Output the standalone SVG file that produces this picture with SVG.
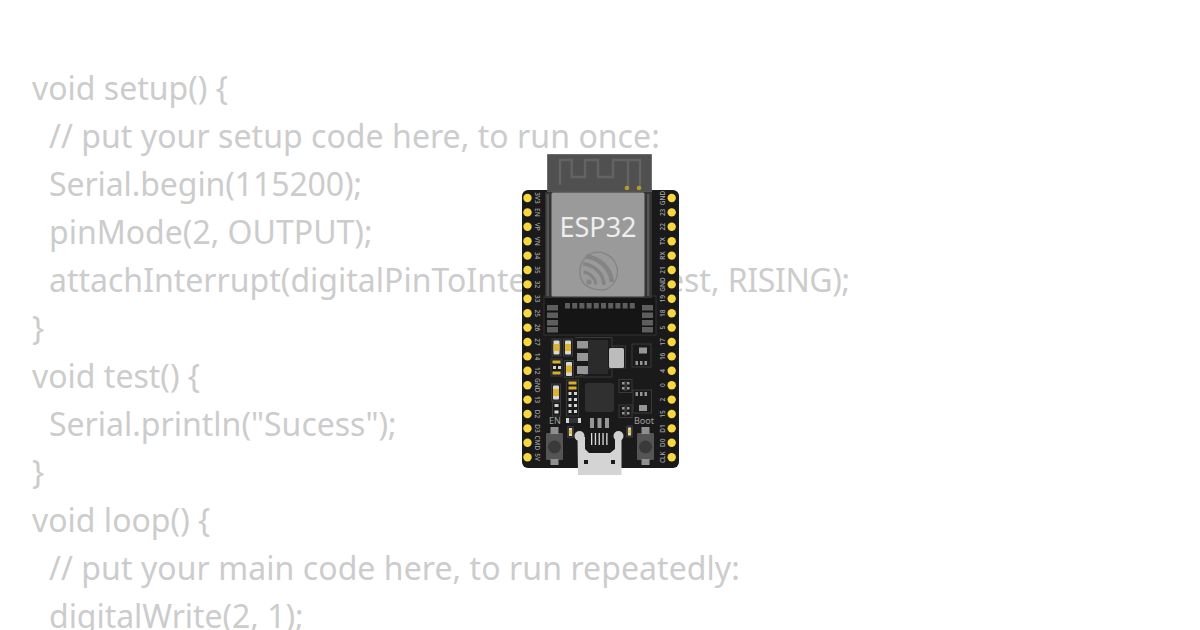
<svg xmlns="http://www.w3.org/2000/svg" width="1200" height="630" viewBox="0 0 1200 630">
<defs>
<style>
.code{font-family:"Noto Sans",sans-serif;font-size:32px;fill:#ccc}
.pl{font-family:"Noto Sans",sans-serif;font-size:6.5px;font-weight:500;fill:#a8a8a8;text-anchor:middle}
.pin{fill:#f7d83e}
.sm{font-family:"Noto Sans",sans-serif;font-size:9px;fill:#a0a0a0;text-anchor:middle}
.out{fill:none;stroke:#3a3a3a;stroke-width:1}
.tab{fill:#969696}
.wh{fill:#d4d4d4}
.ye{fill:#d9b02e}
.pad{fill:#5e5e5e}
</style>
<g id="cap"><rect x="-4.500" y="-8.500" width="9" height="17" fill="#222" stroke="#3a3a3a"/><rect x="-3" y="-7" width="6" height="14" rx="1" fill="#d8d8d8"/><rect x="-3" y="-3.500" width="6" height="7" fill="#dcb230"/></g>
<g id="led"><rect x="-2.800" y="-5.500" width="5.600" height="11" fill="#222" stroke="#3a3a3a"/><rect x="-1.600" y="-4" width="3.200" height="8" fill="#d8d8d8"/><rect x="-1.600" y="-2" width="3.200" height="4" fill="#e0c040"/></g>
<g id="btn"><rect x="-8.500" y="-14" width="17" height="27" rx="1" fill="#555"/><rect x="-4" y="-20" width="8" height="7" fill="#8f8f8f"/><rect x="-4" y="12" width="8" height="6" fill="#8f8f8f"/><circle cy="0" r="6.500" fill="#3a3a3a"/></g>
</defs>
<rect width="1200" height="630" fill="#fff"/>
<g id="code">
<text class="code" x="32" y="100">void setup() {</text>
<text class="code" x="49" y="148" letter-spacing="0.050">// put your setup code here, to run once:</text>
<text class="code" x="49" y="196" letter-spacing="-0.090">Serial.begin(115200);</text>
<text class="code" x="49" y="244">pinMode(2, OUTPUT);</text>
<text class="code" x="49" y="292">attachInterrupt(digitalPinToInterrupt(2), <tspan dx="-4">test,</tspan> <tspan letter-spacing="-0.400">RISING);</tspan></text>
<text class="code" x="32" y="340">}</text>
<text class="code" x="32" y="388">void test() {</text>
<text class="code" x="49" y="436">Serial.println("Sucess");</text>
<text class="code" x="32" y="484">}</text>
<text class="code" x="32" y="532">void loop() {</text>
<text class="code" x="49" y="580" letter-spacing="0.065">// put your main code here, to run repeatedly:</text>
<text class="code" x="49" y="628" letter-spacing="-0.050">digitalWrite(2, 1);</text>
</g>
<g id="esp32-board">
<rect x="522" y="190" width="157" height="278" rx="6" fill="#1a1a1a"/>
<rect x="544" y="296" width="112" height="39" fill="#151515" stroke="#333"/>
<path d="M547.500 154.500H651.500V192H547.500Z" fill="#505050" stroke="#5e5e5e" stroke-width="0.800"/>
<path d="M560 185V160H571.700V177H585V160H598V177H613V160H640V187M628 160V187" fill="none" stroke="#636363" stroke-width="2.400"/>
<circle cx="627" cy="188" r="2.300" fill="#b59d22"/><circle cx="639" cy="188" r="2.300" fill="#b59d22"/>
<rect x="545" y="192" width="107" height="106" fill="#343434"/>
<rect x="546.500" y="194" width="2.500" height="102" fill="#555"/>
<rect x="647" y="194" width="2.500" height="102" fill="#555"/>
<rect x="551.500" y="192.500" width="93" height="104" rx="1.500" fill="#9a9a9a"/>
<text x="598" y="236.500" font-family="'Noto Sans',sans-serif" font-size="27" fill="#eee" text-anchor="middle">ESP32</text>
<g id="logo" fill="none" stroke="#848484">
<path d="M590 254A19 19 0 1 1 606 289.500C596 291 583 288 580.500 277C578 266 583 258 590 254" stroke-width="1.300"/>
<path d="M583.500 272A14.500 14.500 0 0 1 596 284.500" stroke-width="3"/>
<path d="M583 264A22 22 0 0 1 604 285" stroke-width="3.500"/>
<path d="M586 256.500A29 29 0 0 1 612 282" stroke-width="4.500"/>
<circle cx="589" cy="282" r="2.600" fill="#848484" stroke="none"/>
</g>
<g id="pads" class="pad">
<rect x="547" y="305" width="11" height="5.500"/><rect x="547" y="312.500" width="11" height="5.500"/><rect x="547" y="320" width="11" height="5.500"/><rect x="547" y="327" width="11" height="5.500"/>
<rect x="642" y="305" width="11" height="5.500"/><rect x="642" y="312.500" width="11" height="5.500"/><rect x="642" y="320" width="11" height="5.500"/><rect x="642" y="327" width="11" height="5.500"/>
<rect x="565" y="303" width="5" height="5.500"/><rect x="572.200" y="303" width="5" height="5.500"/><rect x="579.400" y="303" width="5" height="5.500"/><rect x="586.600" y="303" width="5" height="5.500"/><rect x="593.800" y="303" width="5" height="5.500"/><rect x="601" y="303" width="5" height="5.500"/><rect x="608.200" y="303" width="5" height="5.500"/><rect x="615.400" y="303" width="5" height="5.500"/><rect x="622.600" y="303" width="5" height="5.500"/><rect x="629.800" y="303" width="5" height="5.500"/>
</g>
<g id="pins-left" class="pin">
<circle cx="527.500" cy="198" r="4.200"/><circle cx="527.500" cy="212.400" r="4.200"/><circle cx="527.500" cy="226.800" r="4.200"/><circle cx="527.500" cy="241.200" r="4.200"/><circle cx="527.500" cy="255.600" r="4.200"/><circle cx="527.500" cy="270" r="4.200"/><circle cx="527.500" cy="284.400" r="4.200"/><circle cx="527.500" cy="298.800" r="4.200"/><circle cx="527.500" cy="313.200" r="4.200"/><circle cx="527.500" cy="327.600" r="4.200"/><circle cx="527.500" cy="342" r="4.200"/><circle cx="527.500" cy="356.400" r="4.200"/><circle cx="527.500" cy="370.800" r="4.200"/><circle cx="527.500" cy="385.200" r="4.200"/><circle cx="527.500" cy="399.600" r="4.200"/><circle cx="527.500" cy="414" r="4.200"/><circle cx="527.500" cy="428.400" r="4.200"/><circle cx="527.500" cy="442.800" r="4.200"/><circle cx="527.500" cy="457.200" r="4.200"/>
</g>
<g id="pins-right" class="pin">
<circle cx="671.700" cy="198" r="4.200"/><circle cx="671.700" cy="212.400" r="4.200"/><circle cx="671.700" cy="226.800" r="4.200"/><circle cx="671.700" cy="241.200" r="4.200"/><circle cx="671.700" cy="255.600" r="4.200"/><circle cx="671.700" cy="270" r="4.200"/><circle cx="671.700" cy="284.400" r="4.200"/><circle cx="671.700" cy="298.800" r="4.200"/><circle cx="671.700" cy="313.200" r="4.200"/><circle cx="671.700" cy="327.600" r="4.200"/><circle cx="671.700" cy="342" r="4.200"/><circle cx="671.700" cy="356.400" r="4.200"/><circle cx="671.700" cy="370.800" r="4.200"/><circle cx="671.700" cy="385.200" r="4.200"/><circle cx="671.700" cy="399.600" r="4.200"/><circle cx="671.700" cy="414" r="4.200"/><circle cx="671.700" cy="428.400" r="4.200"/><circle cx="671.700" cy="442.800" r="4.200"/><circle cx="671.700" cy="457.200" r="4.200"/>
</g>
<g id="labels-left">
<text class="pl" transform="translate(535 198) rotate(90)">3V3</text><text class="pl" transform="translate(535 212.400) rotate(90)">EN</text><text class="pl" transform="translate(535 226.800) rotate(90)">VP</text><text class="pl" transform="translate(535 241.200) rotate(90)">VN</text><text class="pl" transform="translate(535 255.600) rotate(90)">34</text><text class="pl" transform="translate(535 270) rotate(90)">35</text><text class="pl" transform="translate(535 284.400) rotate(90)">32</text><text class="pl" transform="translate(535 298.800) rotate(90)">33</text><text class="pl" transform="translate(535 313.200) rotate(90)">25</text><text class="pl" transform="translate(535 327.600) rotate(90)">26</text><text class="pl" transform="translate(535 342) rotate(90)">27</text><text class="pl" transform="translate(535 356.400) rotate(90)">14</text><text class="pl" transform="translate(535 370.800) rotate(90)">12</text><text class="pl" transform="translate(535 385.200) rotate(90)">GND</text><text class="pl" transform="translate(535 399.600) rotate(90)">13</text><text class="pl" transform="translate(535 414) rotate(90)">D2</text><text class="pl" transform="translate(535 428.400) rotate(90)">D3</text><text class="pl" transform="translate(535 442.800) rotate(90)">CMD</text><text class="pl" transform="translate(535 457.200) rotate(90)">5V</text>
</g>
<g id="labels-right">
<text class="pl" transform="translate(665 198) rotate(-90)">GND</text><text class="pl" transform="translate(665 212.400) rotate(-90)">23</text><text class="pl" transform="translate(665 226.800) rotate(-90)">22</text><text class="pl" transform="translate(665 241.200) rotate(-90)">TX</text><text class="pl" transform="translate(665 255.600) rotate(-90)">RX</text><text class="pl" transform="translate(665 270) rotate(-90)">21</text><text class="pl" transform="translate(665 284.400) rotate(-90)">GND</text><text class="pl" transform="translate(665 298.800) rotate(-90)">19</text><text class="pl" transform="translate(665 313.200) rotate(-90)">18</text><text class="pl" transform="translate(665 327.600) rotate(-90)">5</text><text class="pl" transform="translate(665 342) rotate(-90)">17</text><text class="pl" transform="translate(665 356.400) rotate(-90)">16</text><text class="pl" transform="translate(665 370.800) rotate(-90)">4</text><text class="pl" transform="translate(665 385.200) rotate(-90)">0</text><text class="pl" transform="translate(665 399.600) rotate(-90)">2</text><text class="pl" transform="translate(665 414) rotate(-90)">15</text><text class="pl" transform="translate(665 428.400) rotate(-90)">D1</text><text class="pl" transform="translate(665 442.800) rotate(-90)">D0</text><text class="pl" transform="translate(665 457.200) rotate(-90)">CLK</text>
</g>
<g id="parts">
<use href="#cap" x="556.500" y="347.500"/><use href="#cap" x="568" y="347.500"/><use href="#cap" x="569" y="369"/><use href="#cap" x="556" y="392.500"/>
<rect x="551" y="359" width="11" height="17" class="out"/>
<rect x="552.500" y="360.500" width="8" height="3" class="ye"/><rect x="552.500" y="371.500" width="8" height="3" class="ye"/><rect x="553" y="366" width="3" height="3" class="wh"/><rect x="558" y="366" width="3" height="3" class="wh"/>
<path d="M575 337.500H612V347M612 368V377H575Z" class="out"/>
<rect x="588" y="340" width="20" height="34" fill="#2b2b2b"/>
<rect x="577" y="341" width="11" height="7.500" class="tab"/><rect x="577" y="353" width="11" height="8" class="tab"/><rect x="577" y="366" width="11" height="8" class="tab"/>
<rect x="613" y="346" width="12.500" height="22" class="out"/>
<rect x="609" y="348" width="15" height="20" rx="1.500" fill="#bcbcbc"/>
<rect x="632" y="344" width="19" height="23" class="out"/><rect x="639" y="347.500" width="8" height="6" class="tab"/><rect x="635.500" y="361" width="2.500" height="4" class="tab"/><rect x="640" y="361" width="2.500" height="4" class="tab"/><rect x="644.500" y="361" width="2.500" height="4" class="tab"/>
<rect x="633" y="390" width="18.500" height="23" class="out"/><rect x="639" y="405" width="8" height="6" class="tab"/><rect x="635.500" y="392" width="2.500" height="4" class="tab"/><rect x="640" y="392" width="2.500" height="4" class="tab"/><rect x="644.500" y="392" width="2.500" height="4" class="tab"/>
<rect x="619" y="379.500" width="13" height="13" class="out"/><rect x="624" y="381" width="3" height="10" fill="#333"/><rect x="622" y="382" width="2.500" height="2.500" class="tab"/><rect x="627" y="382" width="2.500" height="2.500" class="tab"/><rect x="622" y="387" width="2.500" height="2.500" class="tab"/><rect x="627" y="387" width="2.500" height="2.500" class="tab"/>
<rect x="619" y="405" width="13" height="12.500" class="out"/><rect x="624" y="406" width="3" height="10" fill="#333"/><rect x="622" y="407" width="2.500" height="2.500" class="tab"/><rect x="627" y="407" width="2.500" height="2.500" class="tab"/><rect x="622" y="412" width="2.500" height="2.500" class="tab"/><rect x="627" y="412" width="2.500" height="2.500" class="tab"/>
<rect x="585" y="383" width="29" height="29" rx="3" fill="#303030"/>
<rect x="566.500" y="380" width="12" height="36" class="out"/>
<rect x="568.500" y="381.500" width="8" height="3" class="ye"/><rect x="568.500" y="386.500" width="8" height="3" class="ye"/>
<rect x="568.500" y="392" width="3" height="3" class="wh"/><rect x="574" y="392" width="3" height="3" class="wh"/><rect x="568.500" y="398" width="3" height="3" class="wh"/><rect x="574" y="398" width="3" height="3" class="wh"/><rect x="568.500" y="404" width="3" height="3" class="wh"/><rect x="574" y="404" width="3" height="3" class="wh"/><rect x="568.500" y="410" width="3" height="3" class="wh"/><rect x="574" y="410" width="3" height="3" class="wh"/>
<rect x="552.500" y="402" width="8" height="14" class="out"/><rect x="554.500" y="404" width="4" height="3" class="wh"/><rect x="554.500" y="410.500" width="4" height="3" class="wh"/>
<rect x="566" y="418" width="15" height="5" fill="#333"/><rect x="566" y="418" width="3" height="5" class="wh"/><rect x="578" y="418" width="3" height="5" class="wh"/>
<rect x="590" y="418" width="4" height="10" class="tab"/><rect x="597.500" y="418" width="4" height="10" class="tab"/><rect x="605" y="418" width="4" height="10" class="tab"/>
<use href="#led" x="570.500" y="432"/><use href="#led" x="629.500" y="431.500"/>
<text class="sm" x="555" y="423.500">EN</text><text class="sm" x="644" y="423.500">Boot</text>
<use href="#btn" x="554.500" y="447"/><use href="#btn" x="645.500" y="447"/>
</g>
<g id="usb">
<path d="M577.500 437H585V449L589 453H610L615 449V437H621.500V475H578Z" fill="#d4d4d4"/>
<circle cx="579.500" cy="436" r="5" fill="#cfcfcf"/><circle cx="618.500" cy="436" r="5" fill="#cfcfcf"/>
<rect x="591" y="433" width="1.300" height="12" fill="#ddd"/><rect x="594.800" y="433" width="1.300" height="12" fill="#ddd"/><rect x="598.600" y="433" width="1.300" height="12" fill="#ddd"/><rect x="602.400" y="433" width="1.300" height="12" fill="#ddd"/><rect x="606.200" y="433" width="1.300" height="12" fill="#ddd"/>
<rect x="584" y="460" width="4" height="4" fill="#1a1a1a"/><rect x="611" y="460" width="4" height="4" fill="#1a1a1a"/>
</g>
</g>
</svg>
